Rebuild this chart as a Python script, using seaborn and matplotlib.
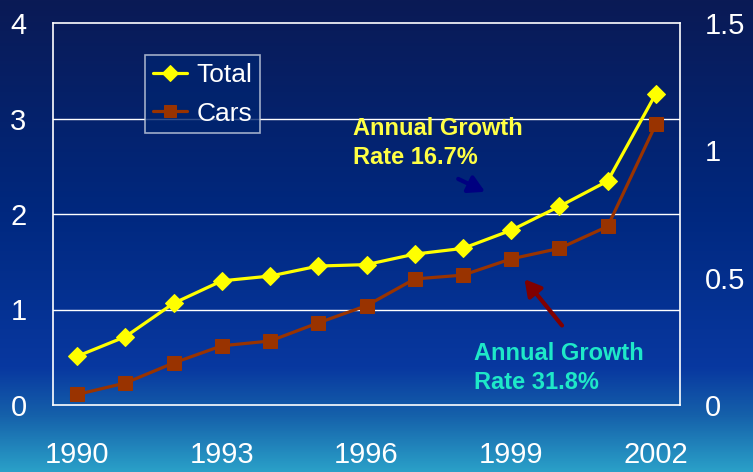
import numpy as np
import pandas as pd
import matplotlib
matplotlib.use("Agg")
import matplotlib.pyplot as plt
import seaborn as sns
from matplotlib.colors import LinearSegmentedColormap

years = [1990, 1991, 1992, 1993, 1994, 1995, 1996, 1997, 1998, 1999, 2000, 2001, 2002]
total = [0.51, 0.715, 1.065, 1.30, 1.35, 1.455, 1.47, 1.58, 1.64, 1.83, 2.08, 2.345, 3.26]
cars = [0.11, 0.23, 0.44, 0.62, 0.67, 0.86, 1.04, 1.32, 1.36, 1.53, 1.64, 1.87, 2.94]
xtick_labels = ["1990", "1993", "1996", "1999", "2002"]

sns.set_theme(style="white")
plt.rcParams['font.family'] = ['Liberation Sans', 'DejaVu Sans']

fig = plt.figure(figsize=(7.53, 4.72), dpi=100)

# gradient background
bg = fig.add_axes([0, 0, 1, 1], zorder=-10)
cmap = LinearSegmentedColormap.from_list(
    "bg", [(0.0, "#0a1a55"), (0.45, "#00287f"), (0.78, "#0838a0"), (0.88, "#1560aa"), (1.0, "#2aa0c8")])
grad = np.linspace(0, 1, 256).reshape(-1, 1)
bg.imshow(grad, aspect="auto", cmap=cmap, extent=[0, 1, 1, 0])
bg.set_axis_off()

ax = fig.add_axes([53/753, 1 - 405/472, (680-53)/753, (405-23)/472])
ax.patch.set_alpha(0)

df = pd.DataFrame({"idx": np.arange(len(years)), "Total": total, "Cars": cars})
sns.lineplot(data=df, x="idx", y="Total", ax=ax, color="#ffff00", lw=2.3,
             marker="D", markersize=9, markeredgecolor="#ffff00", label="Total")
sns.lineplot(data=df, x="idx", y="Cars", ax=ax, color="#993300", lw=2.3,
             marker="s", markersize=10, markeredgecolor="#993300", label="Cars")

ax.set_xlim(-0.5, len(years) - 0.5)
ax.set_ylim(0, 4)
ax.set_yticks([0, 1, 2, 3, 4])
ax.set_yticklabels(["0", "1", "2", "3", "4"])
tick_pos = [years.index(int(t)) for t in xtick_labels]
ax.set_xticks(tick_pos)
ax.set_xticklabels(xtick_labels)
ax.set_xlabel("")
ax.set_ylabel("")
ax.tick_params(axis="y", colors="white", labelsize=21, length=0, pad=19)
ax.tick_params(axis="x", colors="white", labelsize=21, length=0, pad=26)
for y in [1, 2, 3]:
    ax.axhline(y, color="white", lw=1.0, zorder=0.5)
for s in ax.spines.values():
    s.set_color("white")
    s.set_linewidth(1.2)

ax2 = ax.twinx()
ax2.set_ylim(0, 1.5)
ax2.set_yticks([0, 0.5, 1, 1.5])
ax2.set_yticklabels(["0", "0.5", "1", "1.5"])
ax2.tick_params(axis="y", colors="white", labelsize=21, length=0, pad=18)
for s in ax2.spines.values():
    s.set_visible(False)

leg = ax.legend(loc="upper left", bbox_to_anchor=(0.147, 0.916), frameon=True,
                fancybox=False, fontsize=19, handlelength=1.3, handletextpad=0.35,
                borderpad=0.3, labelspacing=0.55, borderaxespad=0.0,
                labelcolor="white", markerscale=0.85)
leg.get_frame().set_facecolor("#00246f")
leg.get_frame().set_edgecolor("#c8d0e0")
leg.get_frame().set_linewidth(1.2)

ax.text(5.73, 3.02, "Annual Growth\nRate 16.7%", color="#ffff44", fontsize=17,
        fontweight="bold", va="top", ha="left", linespacing=1.35)
ax.annotate("", xy=(8.51, 2.22), xytext=(7.85, 2.38),
            arrowprops=dict(arrowstyle="-|>,head_length=0.8,head_width=0.45",
                            color="#000080", lw=3))
ax.text(8.22, 0.66, "Annual Growth\nRate 31.8%", color="#1ee8c8", fontsize=17,
        fontweight="bold", va="top", ha="left", linespacing=1.35)
ax.annotate("", xy=(9.24, 1.34), xytext=(10.09, 0.81),
            arrowprops=dict(arrowstyle="-|>,head_length=0.8,head_width=0.45",
                            color="#800000", lw=3))

fig.savefig("out.png", dpi=100)
